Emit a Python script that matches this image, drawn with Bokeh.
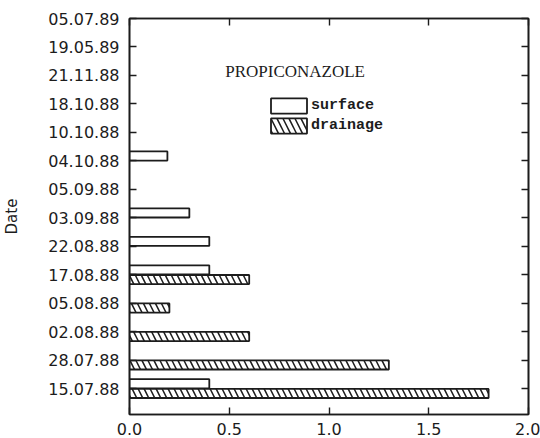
from bokeh.plotting import figure
from bokeh.models import (Range1d, FixedTicker, LinearAxis, Legend, LegendItem,
                          Label, ColumnDataSource)
from bokeh.embed import file_html
from bokeh.resources import INLINE

# ---- data ----
dates = ["15.07.88", "28.07.88", "02.08.88", "05.08.88", "17.08.88", "22.08.88",
         "03.09.88", "05.09.88", "04.10.88", "10.10.88", "18.10.88", "21.11.88",
         "19.05.89", "05.07.89"]
surface = [0.4, 0.0, 0.0, 0.0, 0.4, 0.4, 0.3, 0.0, 0.19, 0.0, 0.0, 0.0, 0.0, 0.0]
drainage = [1.8, 1.3, 0.6, 0.2, 0.6, 0.0, 0.0, 0.0, 0.0, 0.0, 0.0, 0.0, 0.0, 0.0]
x_ticks = [0.0, 0.5, 1.0, 1.5, 2.0]
x_tick_labels = ["0.0", "0.5", "1.0", "1.5", "2.0"]
title_text = "PROPICONAZOLE"
series_names = ["surface", "drainage"]
y_title = "Date"

INK = "#1c1c1c"
TICK_FONT = "DejaVu Sans"

pos = list(range(len(dates)))
BAR_H = 0.32
OFF = 0.17

s_src = ColumnDataSource(dict(
    y=[p + OFF for p, v in zip(pos, surface) if v > 0],
    right=[v for v in surface if v > 0]))
d_src = ColumnDataSource(dict(
    y=[p - OFF for p, v in zip(pos, drainage) if v > 0],
    right=[v for v in drainage if v > 0]))

p = figure(width=540, height=438, output_backend="svg", toolbar_location=None,
           x_range=Range1d(0, 2), y_range=Range1d(-0.91, len(dates) - 1),
           min_border_left=128, min_border_right=12, min_border_top=18,
           min_border_bottom=24)
p.grid.visible = False
p.background_fill_color = "white"
p.border_fill_color = "white"
p.outline_line_color = INK
p.outline_line_width = 1.6

r_s = p.hbar(y="y", right="right", left=0, height=BAR_H, source=s_src,
             fill_color="white", line_color=INK, line_width=1.8)
r_d = p.hbar(y="y", right="right", left=0, height=BAR_H, source=d_src,
             fill_color="white", line_color=INK, line_width=1.8,
             hatch_pattern="left_diagonal_line", hatch_color=INK,
             hatch_weight=1.5, hatch_scale=12)

# bottom axis
xa = p.xaxis[0]
xa.ticker = FixedTicker(ticks=x_ticks)
xa.major_label_overrides = {t: l for t, l in zip(x_ticks, x_tick_labels)}
# left axis
ya = p.yaxis[0]
ya.ticker = FixedTicker(ticks=pos)
ya.major_label_overrides = {i: d for i, d in zip(pos, dates)}
ya.axis_label = y_title
ya.axis_label_text_font = TICK_FONT
ya.axis_label_text_font_style = "normal"
ya.axis_label_text_font_size = "15px"
ya.axis_label_text_color = INK
ya.axis_label_standoff = 24

for ax in (xa, ya):
    ax.major_tick_in = 7
    ax.major_tick_out = 0
    ax.minor_tick_line_color = None
    ax.axis_line_color = INK
    ax.axis_line_width = 1.6
    ax.major_tick_line_color = INK
    ax.major_tick_line_width = 1.4
    ax.major_label_text_font = TICK_FONT
    ax.major_label_text_font_size = "16px"
    ax.major_label_text_color = INK
xa.major_label_standoff = 8
ya.major_label_standoff = 10

# mirrored axes (ticks only, labels not drawn)
top = LinearAxis(ticker=FixedTicker(ticks=x_ticks))
right = LinearAxis(ticker=FixedTicker(ticks=pos))
for ax in (top, right):
    ax.major_tick_in = 7
    ax.major_tick_out = 0
    ax.minor_tick_line_color = None
    ax.axis_line_color = INK
    ax.axis_line_width = 1.6
    ax.major_tick_line_color = INK
    ax.major_tick_line_width = 1.4
    ax.major_label_text_font_size = "1px"
    ax.major_label_text_color = None
    ax.major_label_standoff = 0
p.add_layout(top, "above")
p.add_layout(right, "right")

# title inside the plot
p.add_layout(Label(x=0.83, y=11.13, text=title_text, text_align="center",
                   text_baseline="middle", text_font="Liberation Serif",
                   text_font_size="17px", text_color=INK))

legend = Legend(items=[LegendItem(label=series_names[0], renderers=[r_s]),
                       LegendItem(label=series_names[1], renderers=[r_d])],
                location=(137, 279), orientation="vertical",
                glyph_width=45, glyph_height=19, label_height=19,
                label_standoff=0, spacing=1, padding=0, margin=0,
                border_line_alpha=0, background_fill_alpha=0,
                label_text_font="Liberation Mono", label_text_font_style="bold",
                label_text_font_size="15px", label_text_color=INK)
p.add_layout(legend, "center")

open("out.html", "w").write(file_html(p, INLINE))
